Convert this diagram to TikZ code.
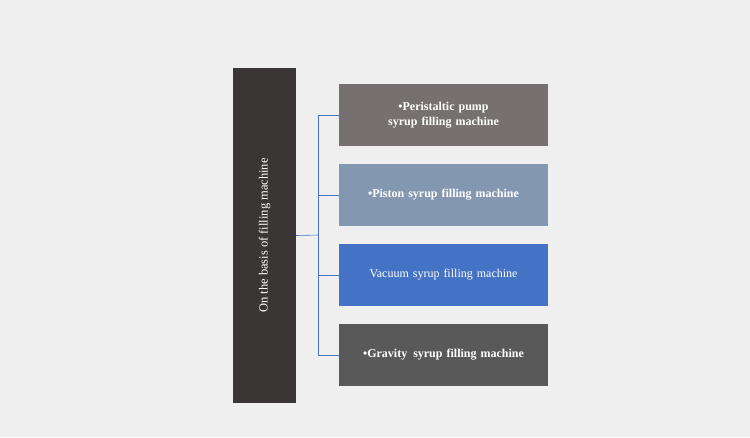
\documentclass[tikz,border=0pt]{standalone}
\usepackage{fontspec}
\setmainfont{Liberation Serif}
\usetikzlibrary{positioning}
\definecolor{bgcol}{HTML}{EFEFEF}
\definecolor{leftcol}{HTML}{3A3636}
\definecolor{typecol}{HTML}{767070}
\definecolor{pistcol}{HTML}{8497B0}
\definecolor{vaccol}{HTML}{4472C4}
\definecolor{gravcol}{HTML}{595959}
\tikzstyle{kind} = [ text=white,text width=180pt,align=center,
                     minimum width=209pt,minimum height=62pt,font=\fontsize{12}{15}\selectfont]
\tikzstyle{link} = [ draw=vaccol,line width=0.6pt]

\begin{document}
\begin{tikzpicture}[x=1pt,y=-1pt]
  \fill[bgcol] (0,0) rectangle (750,437);
  \useasboundingbox (0,0) rectangle (750,437);
  \node[fill=leftcol,minimum width=63pt,minimum height=335pt,inner sep=0pt] at (264.5,235.5) (base) {};
  \node[text=white,rotate=90,font=\fontsize{12.5}{15}\selectfont] at (base.center) {On the basis of filling machine};

  \node[kind,fill=typecol,font=\bfseries\fontsize{12}{15}\selectfont] at (443.5,115) (peri)  {•Peristaltic pump syrup filling machine};
  \node[kind,fill=pistcol,font=\bfseries\fontsize{12}{15}\selectfont] at (443.5,195) (pist)  {•Piston syrup filling machine};
  \node[kind,fill=vaccol] at (443.5,275) (vac)   {Vacuum syrup filling machine};
  \node[kind,fill=gravcol,font=\bfseries\fontsize{12}{15}\selectfont] at (443.5,355) (grav)  {•Gravity\, syrup filling machine};

  \coordinate (fork) at (318,235);
  \draw[link] (base.east) -- (fork);
  \draw[link] (fork) |- (peri.west);
  \draw[link] (fork) |- (pist.west);
  \draw[link] (fork) |- (vac.west);
  \draw[link] (fork) |- (grav.west);
\end{tikzpicture}
\end{document}
